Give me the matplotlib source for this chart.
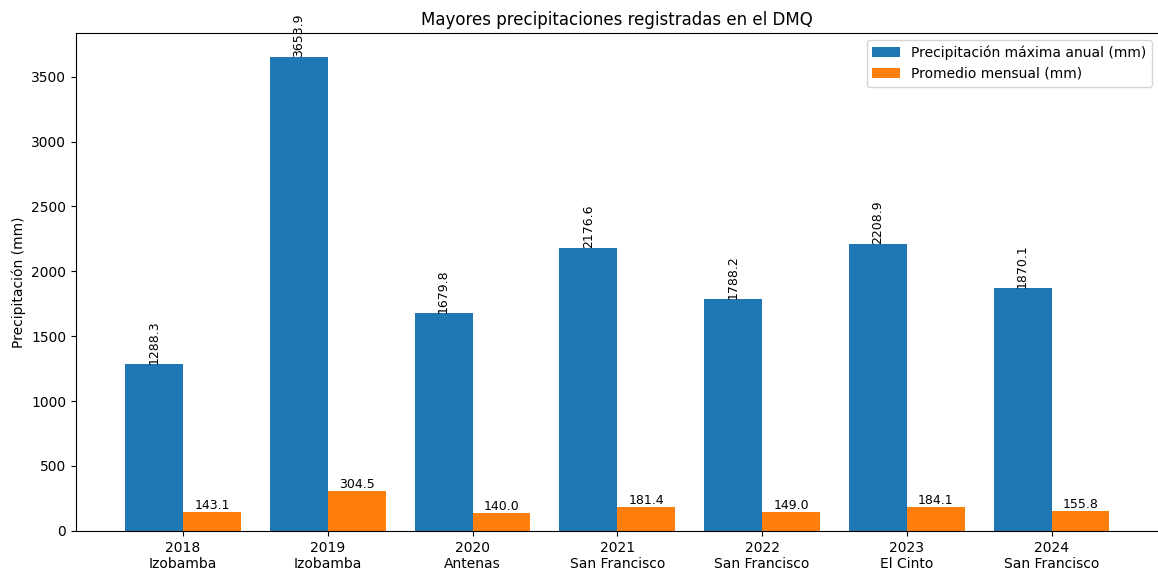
import numpy as np
import matplotlib.pyplot as plt

years = ['2018', '2019', '2020', '2021', '2022', '2023', '2024']
stations = ['Izobamba', 'Izobamba', 'Antenas', 'San Francisco', 'San Francisco', 'El Cinto', 'San Francisco']
max_anual = [1288.3, 3653.9, 1679.8, 2176.6, 1788.2, 2208.9, 1870.1]
prom_mensual = [143.1, 304.5, 140.0, 181.4, 149.0, 184.1, 155.8]

x = np.arange(len(years))
w = 0.4

fig = plt.figure(figsize=(11.58, 5.69), dpi=100)
ax = fig.add_axes([0.0656, 0.067, 0.935, 0.875])
b1 = ax.bar(x - w/2, max_anual, w, label='Precipitación máxima anual (mm)')
b2 = ax.bar(x + w/2, prom_mensual, w, label='Promedio mensual (mm)')

for r, v in zip(b1, max_anual):
    ax.text(r.get_x() + r.get_width()/2, v, f'{v:.1f}', ha='center', va='bottom', rotation=90, fontsize=9)
for r, v in zip(b2, prom_mensual):
    ax.text(r.get_x() + r.get_width()/2, v, f'{v:.1f}', ha='center', va='bottom', fontsize=9)

ax.set_xticks(x)
ax.set_xticklabels([f'{a}\n{b}' for a, b in zip(years, stations)])
ax.set_ylabel('Precipitación (mm)')
ax.set_title('Mayores precipitaciones registradas en el DMQ')
ax.legend(loc='upper right')

fig.savefig('out.png')
